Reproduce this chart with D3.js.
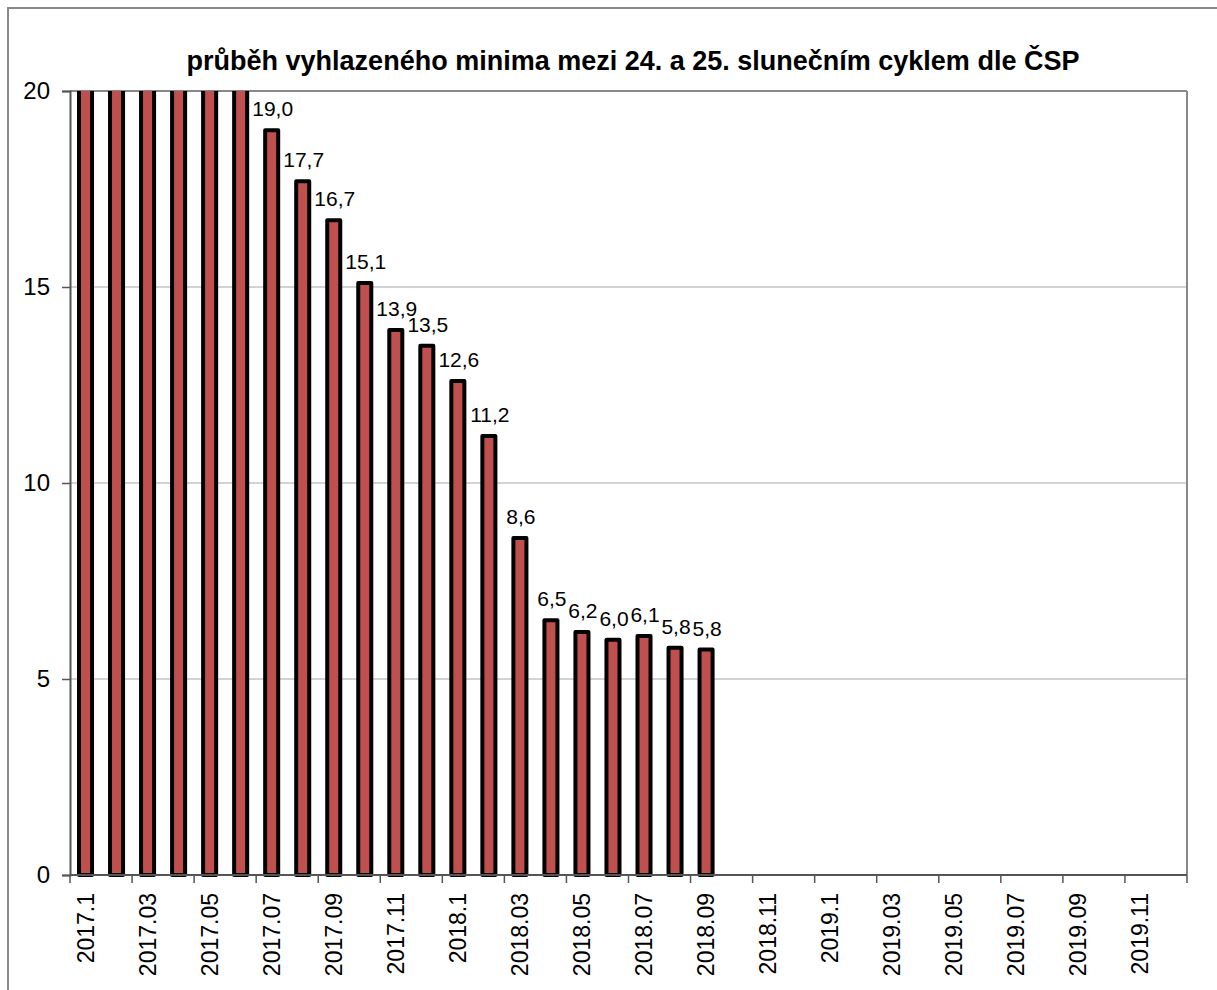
<!DOCTYPE html>
<html>
<head>
<meta charset="utf-8">
<script src="https://cdn.jsdelivr.net/npm/d3@7"></script>
<style>
body { margin: 0; background: #fff; }
svg { font-family: Arial, "Liberation Sans", sans-serif; }
</style>
</head>
<body>
<svg id="svg1" width="1217" height="990"></svg>
<script>
var width = 1217;
var height = 990;

// month labels as they appear in the sheet (2017.1 .. 2019.12)
var months = [
    '2017.1', '2017.02', '2017.03', '2017.04', '2017.05', '2017.06', '2017.07', '2017.08', '2017.09', '2017.1', '2017.11', '2017.12',
    '2018.1', '2018.02', '2018.03', '2018.04', '2018.05', '2018.06', '2018.07', '2018.08', '2018.09', '2018.1', '2018.11', '2018.12',
    '2019.1', '2019.02', '2019.03', '2019.04', '2019.05', '2019.06', '2019.07', '2019.08', '2019.09', '2019.1', '2019.11', '2019.12'
];
var categories = months.map(function (d, i) { return i; });

// first six bars run above the axis maximum (clipped)
var values = [28.0, 26.0, 24.5, 23.0, 22.0, 20.8, 19.0, 17.7, 16.7, 15.1, 13.9, 13.5, 12.6, 11.2, 8.6, 6.5, 6.2, 6.0, 6.1, 5.8, 5.75];
var valueLabels = ['', '', '', '', '', '', '19,0', '17,7', '16,7', '15,1', '13,9', '13,5', '12,6', '11,2', '8,6', '6,5', '6,2', '6,0', '6,1', '5,8', '5,8'];
var yTicks = [0, 5, 10, 15, 20];
var title = 'průběh vyhlazeného minima mezi 24. a 25. slunečním cyklem dle ČSP';

var marginLeft = 70;
var marginTop = 91;
var plotRight = 1187;
var plotBottom = 875;

var svg = d3.select('#svg1');

// outer frame
svg.append('rect')
    .attr('x', 8).attr('y', 8)
    .attr('width', 1230).attr('height', 1000)
    .attr('fill', 'none')
    .attr('stroke', '#888')
    .attr('stroke-width', 2);

var x = d3.scaleBand().domain(categories).range([marginLeft, plotRight]).padding(0);
var y = d3.scaleLinear().domain([0, 20]).range([plotBottom, marginTop]);

// grid
svg.append('g').selectAll('line')
    .data([5, 10, 15])
    .enter()
    .append('line')
    .attr('x1', marginLeft).attr('x2', plotRight)
    .attr('y1', function (d) { return y(d); })
    .attr('y2', function (d) { return y(d); })
    .attr('stroke', '#a6a6a6')
    .attr('stroke-width', 1);

// plot border right/top
svg.append('line')
    .attr('x1', marginLeft).attr('x2', plotRight)
    .attr('y1', marginTop).attr('y2', marginTop)
    .attr('stroke', '#888').attr('stroke-width', 2);
svg.append('line')
    .attr('x1', plotRight).attr('x2', plotRight)
    .attr('y1', marginTop).attr('y2', plotBottom)
    .attr('stroke', '#888').attr('stroke-width', 2);

svg.append('clipPath').attr('id', 'plotclip')
    .append('rect')
    .attr('x', marginLeft - 10).attr('y', marginTop)
    .attr('width', plotRight - marginLeft + 20).attr('height', plotBottom - marginTop + 10);

var bw = x.bandwidth() * 0.42;

svg.append('g')
    .attr('clip-path', 'url(#plotclip)')
    .selectAll('rect')
    .data(values)
    .enter()
    .append('rect')
    .attr('x', function (d, i) { return x(i) + x.bandwidth() / 2 - bw / 2; })
    .attr('y', function (d) { return y(d); })
    .attr('width', bw)
    .attr('height', function (d) { return plotBottom - y(d); })
    .attr('fill', '#C0504D')
    .attr('stroke', '#000')
    .attr('stroke-width', 4)
    .attr('stroke-linejoin', 'round');

// value labels
svg.append('g').selectAll('text')
    .data(values)
    .enter()
    .append('text')
    .attr('x', function (d, i) { return x(i) + x.bandwidth() / 2 + 1; })
    .attr('y', function (d) { return y(d) - 14; })
    .attr('text-anchor', 'middle')
    .attr('font-size', '21px')
    .attr('fill', '#000')
    .text(function (d, i) { return valueLabels[i]; });

// y axis
var yAxis = d3.axisLeft(y).tickValues(yTicks).tickSize(8).tickPadding(12)
    .tickFormat(function (d) { return d; });
var gy = svg.append('g').attr('transform', 'translate(' + marginLeft + ',0)').call(yAxis);
gy.select('.domain').attr('stroke', '#555').attr('stroke-width', 2);
gy.selectAll('.tick line').attr('stroke', '#555').attr('stroke-width', 1.5);
gy.selectAll('.tick text').attr('font-size', '24px').attr('fill', '#000').attr('font-family', 'Arial, "Liberation Sans", sans-serif');

// x axis
svg.append('line')
    .attr('x1', marginLeft).attr('x2', plotRight)
    .attr('y1', plotBottom).attr('y2', plotBottom)
    .attr('stroke', '#555').attr('stroke-width', 2);

var tickIdx = d3.range(0, 37, 2);
svg.append('g').selectAll('line')
    .data(tickIdx)
    .enter()
    .append('line')
    .attr('x1', function (d) { return marginLeft + d * x.step(); })
    .attr('x2', function (d) { return marginLeft + d * x.step(); })
    .attr('y1', plotBottom).attr('y2', plotBottom + 8)
    .attr('stroke', '#555').attr('stroke-width', 1.5);

svg.append('g').selectAll('text')
    .data(categories.filter(function (d) { return d % 2 == 0; }))
    .enter()
    .append('text')
    .attr('transform', function (d) {
        return 'translate(' + (x(d) + x.bandwidth() / 2 + 8) + ',' + (plotBottom + 18) + ') rotate(-90)';
    })
    .attr('text-anchor', 'end')
    .attr('font-size', '23px')
    .attr('fill', '#000')
    .text(function (d) { return months[d]; });

// title
svg.append('text')
    .attr('x', 633).attr('y', 70)
    .attr('text-anchor', 'middle')
    .attr('font-size', '27px')
    .attr('font-weight', 'bold')
    .text(title);
</script>
</body>
</html>
